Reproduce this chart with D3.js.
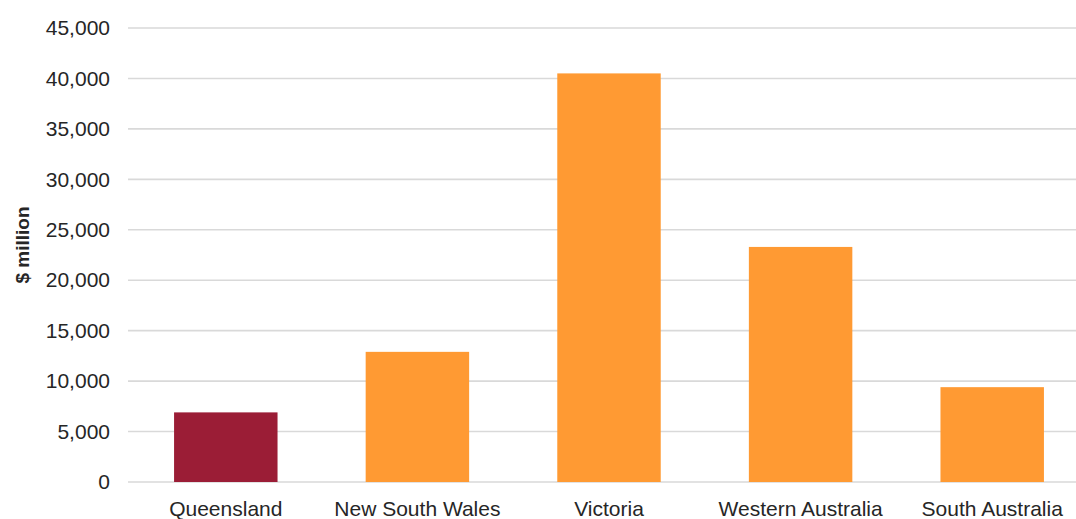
<!DOCTYPE html>
<html>
<head>
<meta charset="utf-8">
<script src="https://cdn.jsdelivr.net/npm/d3@7"></script>
<style>
  html, body { margin: 0; padding: 0; background: #fff; }
  svg { display: block; }
</style>
</head>
<body>
<svg id="chart" width="1076" height="519"></svg>
<script>
const categories = ["Queensland", "New South Wales", "Victoria", "Western Australia", "South Australia"];
const values = [6900, 12900, 40500, 23300, 9400];
const highlight = ["Queensland"];
const yTicks = [0, 5000, 10000, 15000, 20000, 25000, 30000, 35000, 40000, 45000];
const yTitle = "$ million";

const svg = d3.select("#chart");
const font = "'Liberation Sans', Arial, sans-serif";

const y = d3.scaleLinear().domain([0, 45000]).range([482, 28]);
const x = d3.scaleBand().domain(categories).range([130, 1088]).paddingInner(0.46).paddingOuter(0.23);

// gridlines
svg.append("g")
  .selectAll("line")
  .data(yTicks)
  .join("line")
  .attr("x1", 128).attr("x2", 1076)
  .attr("y1", d => y(d)).attr("y2", d => y(d))
  .attr("stroke", "#d9d9d9").attr("stroke-width", 1.6);

// y axis labels
const yAxis = d3.axisLeft(y).tickValues(yTicks).tickFormat(d3.format(",")).tickSize(0).tickPadding(0);
const yg = svg.append("g").attr("transform", "translate(110,0)").call(yAxis);
yg.select(".domain").remove();
yg.selectAll("text").attr("font-family", font).attr("font-size", 21).attr("fill", "#262626");

// bars
svg.append("g")
  .selectAll("rect")
  .data(categories.map((c, i) => ({c, v: values[i]})))
  .join("rect")
  .attr("x", d => x(d.c))
  .attr("width", x.bandwidth())
  .attr("y", d => y(d.v))
  .attr("height", d => y(0) - y(d.v))
  .attr("fill", d => highlight.includes(d.c) ? "#9B1D36" : "#FF9A33");

// x axis labels
const xAxis = d3.axisBottom(x).tickSize(0).tickPadding(0);
const xg = svg.append("g").attr("transform", "translate(0,500)").call(xAxis);
xg.select(".domain").remove();
xg.selectAll("text").attr("font-family", font).attr("font-size", 21).attr("fill", "#262626").attr("dy", "0.78em");

// y title
svg.append("text")
  .attr("transform", "translate(29,245) rotate(-90)")
  .attr("text-anchor", "middle")
  .attr("font-family", font)
  .attr("font-size", 19)
  .attr("font-weight", "bold")
  .attr("fill", "#262626")
  .text(yTitle);
</script>
</body>
</html>
